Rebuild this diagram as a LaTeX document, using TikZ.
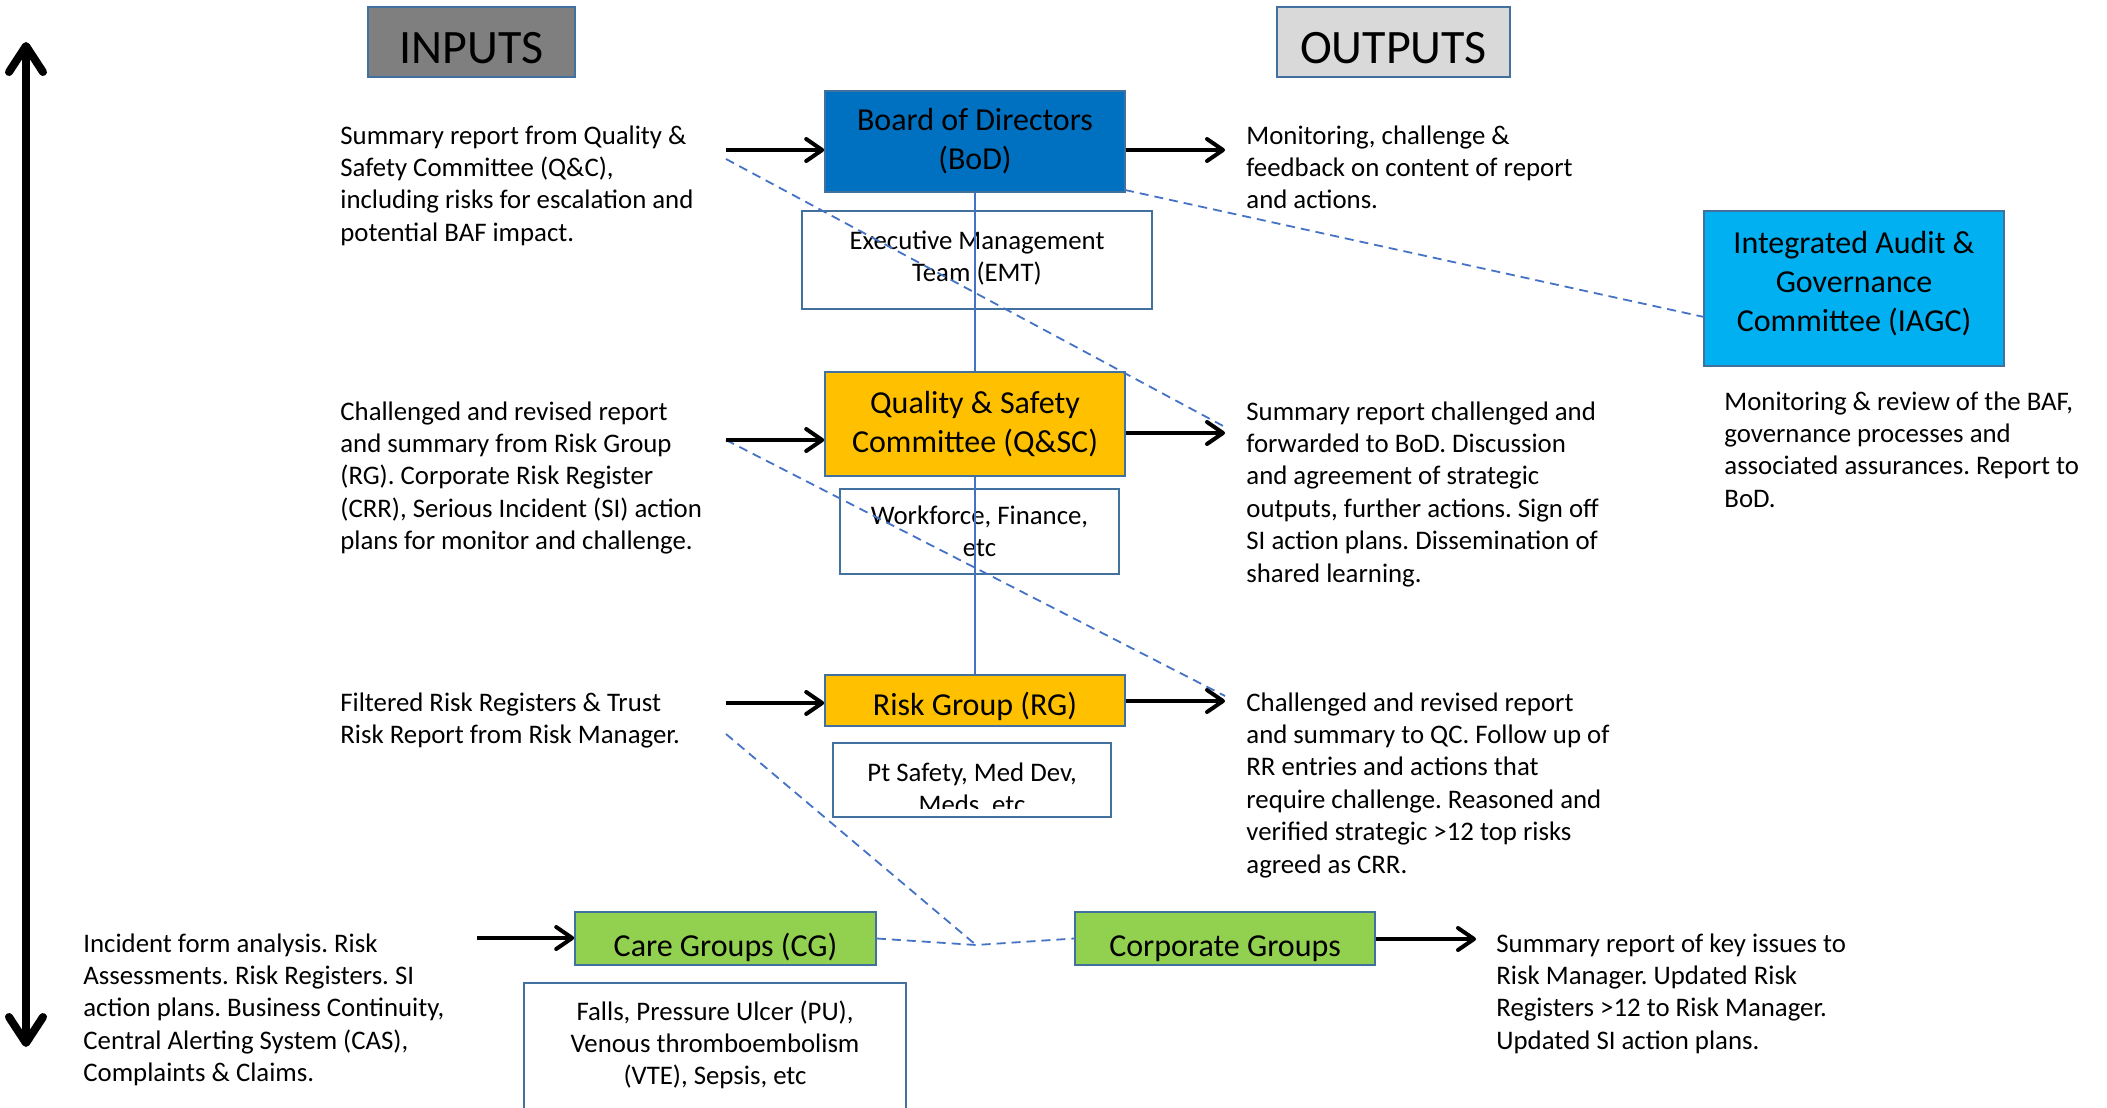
\documentclass[tikz,border=0pt]{standalone}
\usepackage{fontspec}
\setmainfont{Carlito}
\usetikzlibrary{arrows.meta}
\definecolor{bord}{HTML}{41719C}
\definecolor{lnk}{HTML}{4472C4}
\definecolor{gin}{HTML}{7F7F7F}
\definecolor{gout}{HTML}{D9D9D9}
\definecolor{bod}{HTML}{0070C0}
\definecolor{amber}{HTML}{FFC000}
\definecolor{grn}{HTML}{92D050}
\definecolor{cyanb}{HTML}{00B0F0}
\frenchspacing
\begin{document}
\begin{tikzpicture}[x=0.5pt,y=-0.5pt,
  box/.style={draw=bord,line width=0.8pt,inner sep=0pt,align=center,font=\fontsize{16}{19.5}\selectfont},
  subbox/.style={draw=bord,line width=0.8pt,fill=white,inner sep=0pt,align=center,font=\fontsize{13.4}{16.2}\selectfont},
  head/.style={draw=bord,line width=0.8pt,inner sep=0pt},
  headtxt/.style={inner sep=0pt,font=\fontsize{24}{26}\selectfont},
  txt/.style={anchor=north west,align=left,inner sep=0pt,font=\fontsize{13.4}{16.2}\selectfont},
  arr/.style={line width=2pt,-{Straight Barb[length=8pt,width=11pt,round]}},
  dashlink/.style={draw=lnk,line width=0.9pt,dash pattern=on 4.5pt off 3pt},
  spine/.style={draw=lnk,line width=0.6pt}]
\useasboundingbox (0,0) rectangle (2107,1107);
% headings
\node[head,fill=gin,minimum width=103.5pt,minimum height=35pt] (inputs) at (471.5,42) {};
\node[headtxt] (inputst) at (471.5,48) {INPUTS};
\node[head,fill=gout,minimum width=116.5pt,minimum height=35pt] (outputs) at (1393.5,42) {};
\node[headtxt] (outputst) at (1393.5,48) {OUTPUTS};
% main boxes
\node[box,fill=bod,minimum width=150pt,minimum height=50.5pt] (bod) at (975,141.5) {Board of Directors\\(BoD)};
\node[subbox,minimum width=175pt,minimum height=49pt] (emt) at (977,260) {Executive Management\\Team (EMT)\rule[-4pt]{0pt}{1pt}};
\node[box,fill=amber,minimum width=150pt,minimum height=52pt] (qsc) at (975,424) {Quality \& Safety\\Committee (Q\&SC)};
\node[subbox,minimum width=139.5pt,minimum height=42.5pt] (wf) at (979.5,531.5) {Workforce, Finance,\\etc};
\node[box,fill=amber,minimum width=150pt,minimum height=25.5pt,text height=17.5pt,text depth=2.5pt] (rg) at (975,700.5) {Risk Group (RG)};
\node[subbox,minimum width=139pt,minimum height=37pt] (pt) at (972,780) {};
\begin{scope}
\clip (pt.north west) rectangle ([yshift=4.5pt]pt.south east);
\node[txt,anchor=north,align=center] (ptt) at (972,762) {Pt Safety, Med Dev,\\Meds, etc};
\end{scope}
\node[box,fill=grn,minimum width=150.5pt,minimum height=26.5pt,text height=20pt,text depth=1.8pt] (cg) at (725.5,938.5) {Care Groups (CG)};
\node[subbox,anchor=north,minimum width=191pt,minimum height=70pt] (falls) at (715,982) {};
\node[txt,anchor=north,align=center] (fallst) at (715,1000) {Falls, Pressure Ulcer (PU),\\Venous thromboembolism\\(VTE), Sepsis, etc};
\node[box,fill=grn,minimum width=150pt,minimum height=26.5pt,text height=20pt,text depth=1.8pt] (corp) at (1225,938.5) {Corporate Groups};
\node[box,fill=cyanb,minimum width=150pt,minimum height=77.5pt] (iagc) at (1854,288.5) {Integrated Audit \&\\Governance\\Committee (IAGC)\rule[-7pt]{0pt}{1pt}};
% texts
\node[txt] (in1) at (340,125) {Summary report from Quality \&\\Safety Committee (Q\&C),\\including risks for escalation and\\potential BAF impact.};
\node[txt] (out1) at (1246,125) {Monitoring, challenge \&\\feedback on content of report\\and actions.};
\node[txt] (in2) at (340,401) {Challenged and revised report\\and summary from Risk Group\\(RG). Corporate Risk Register\\(CRR), Serious Incident (SI) action\\plans for monitor and challenge.};
\node[txt] (out2) at (1246,401) {Summary report challenged and\\forwarded to BoD. Discussion\\and agreement of strategic\\outputs, further actions. Sign off\\SI action plans. Dissemination of\\shared learning.};
\node[txt] (iagct) at (1724,391) {Monitoring \& review of the BAF,\\governance processes and\\associated assurances. Report to\\BoD.};
\node[txt] (in3) at (340,692) {Filtered Risk Registers \& Trust\\Risk Report from Risk Manager.};
\node[txt] (out3) at (1246,692) {Challenged and revised report\\and summary to QC. Follow up of\\RR entries and actions that\\require challenge. Reasoned and\\verified strategic >12 top risks\\agreed as CRR.};
\node[txt] (in4) at (83,933) {Incident form analysis. Risk\\Assessments. Risk Registers. SI\\action plans. Business Continuity,\\Central Alerting System (CAS),\\Complaints \& Claims.};
\node[txt] (out4) at (1496,933) {Summary report of key issues to\\Risk Manager. Updated Risk\\Registers >12 to Risk Manager.\\Updated SI action plans.};
% coordinates
\coordinate (a1) at (726,150);
\coordinate (b1) at (1225,150);
\coordinate (a2) at (726,440);
\coordinate (b2) at (1225,433);
\coordinate (a3) at (726,703);
\coordinate (b3) at (1225,701);
\coordinate (a4) at (477,938);
\coordinate (b4) at (1476,939);
\coordinate (d1s) at (726,159);
\coordinate (d1e) at (1225,427);
\coordinate (d2s) at (1125,190);
\coordinate (d2e) at (1704,317);
\coordinate (d3e) at (1225,696);
\coordinate (d4s) at (726,734);
\coordinate (junc) at (976,945);
\coordinate (vtop) at (26,42);
\coordinate (vbot) at (26,1047);
% spine
\draw[spine] (bod.south) -- (qsc.north);
\draw[spine] (qsc.south) -- (rg.north);
% dashed links
\draw[dashlink] (d1s) -- (d1e);
\draw[dashlink] (d2s) -- (d2e);
\draw[dashlink] (a2) -- (d3e);
\draw[dashlink] (d4s) -- (junc);
\draw[dashlink] (cg.east) -- (junc) -- (corp.west);
% arrows
\draw[arr] (a1) -- (a1 -| bod.west);
\draw[arr] (bod.east |- a1) -- (b1);
\draw[arr] (a2) -- (a2 -| qsc.west);
\draw[arr] (qsc.east |- b2) -- (b2);
\draw[arr] (a3) -- (a3 -| rg.west);
\draw[arr] (rg.east |- b3) -- (b3);
\draw[arr] (a4) -- (a4 -| cg.west);
\draw[arr] (corp.east |- b4) -- (b4);
\draw[line width=4pt,{Straight Barb[length=13pt,width=17pt,round]}-{Straight Barb[length=13pt,width=17pt,round]}] (vtop) -- (vbot);
\end{tikzpicture}
\end{document}
